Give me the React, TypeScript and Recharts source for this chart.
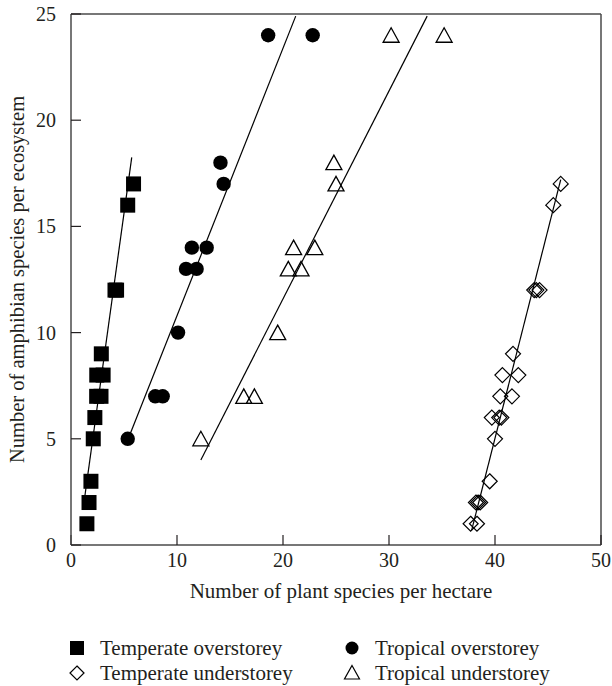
import React from 'react';
import { ScatterChart, Scatter, XAxis, YAxis, ReferenceLine, Label } from 'recharts';

// ---- data ----
const xTicks = [0, 10, 20, 30, 40, 50];
const yTicks = [0, 5, 10, 15, 20, 25];

const temperateOverstorey = [
  { x: 1.5, y: 1 }, { x: 1.7, y: 2 }, { x: 1.88, y: 3 }, { x: 2.1, y: 5 },
  { x: 2.25, y: 6 }, { x: 2.42, y: 7 }, { x: 2.83, y: 7 }, { x: 2.43, y: 8 },
  { x: 3.03, y: 8 }, { x: 2.86, y: 9 }, { x: 4.15, y: 12 }, { x: 4.3, y: 12 },
  { x: 5.35, y: 16 }, { x: 5.9, y: 17 },
];
const tropicalOverstorey = [
  { x: 5.35, y: 5 }, { x: 7.95, y: 7 }, { x: 8.65, y: 7 }, { x: 10.1, y: 10 },
  { x: 10.85, y: 13 }, { x: 11.85, y: 13 }, { x: 11.4, y: 14 }, { x: 12.8, y: 14 },
  { x: 14.4, y: 17 }, { x: 14.1, y: 18 }, { x: 18.6, y: 24 }, { x: 22.8, y: 24 },
];
const tropicalUnderstorey = [
  { x: 12.25, y: 5 }, { x: 16.3, y: 7 }, { x: 17.3, y: 7 }, { x: 19.5, y: 10 },
  { x: 20.5, y: 13 }, { x: 21.7, y: 13 }, { x: 21.0, y: 14 }, { x: 23.0, y: 14 },
  { x: 25.0, y: 17 }, { x: 24.8, y: 18 }, { x: 30.2, y: 24 }, { x: 35.2, y: 24 },
];
const temperateUnderstorey = [
  { x: 37.7, y: 1 }, { x: 38.3, y: 1 }, { x: 38.2, y: 2 }, { x: 38.4, y: 2 },
  { x: 38.6, y: 2 }, { x: 39.5, y: 3 }, { x: 40.0, y: 5 }, { x: 39.7, y: 6 },
  { x: 40.4, y: 6 }, { x: 40.6, y: 6 }, { x: 40.5, y: 7 }, { x: 41.6, y: 7 },
  { x: 40.7, y: 8 }, { x: 42.2, y: 8 }, { x: 41.7, y: 9 }, { x: 43.7, y: 12 },
  { x: 43.9, y: 12 }, { x: 44.2, y: 12 }, { x: 45.5, y: 16 }, { x: 46.2, y: 17 },
];

const fitTemperateOverstorey = [{ x: 1.32, y: 2.35 }, { x: 5.73, y: 18.25 }];
const fitTropicalOverstorey = [{ x: 5.4, y: 5 }, { x: 21.2, y: 24.9 }];
const fitTropicalUnderstorey = [{ x: 12.25, y: 4.0 }, { x: 33.6, y: 24.9 }];
const fitTemperateUnderstorey = [{ x: 37.8, y: 0.7 }, { x: 46.2, y: 17.2 }];

const legendLabels = [
  'Temperate overstorey',
  'Tropical overstorey',
  'Temperate understorey',
  'Tropical understorey',
];

const xTitle = 'Number of plant species per hectare';
const yTitle = 'Number of amphibian species per ecosystem';

// ---- styles ----
const FONT = '"Liberation Serif", "Times New Roman", serif';
const INK = '#231f20';
const FRAME = '#4a4a4a';

const SquareShape = (p: any) => (
  <rect x={p.cx - 7.5} y={p.cy - 7.5} width={15} height={15} fill="#000" />
);
const CircleShape = (p: any) => <circle cx={p.cx} cy={p.cy} r={7.2} fill="#000" />;
const TriangleShape = (p: any) => (
  <path
    d={`M${p.cx},${p.cy - 7.5} L${p.cx + 8},${p.cy + 7} L${p.cx - 8},${p.cy + 7} Z`}
    fill="none"
    stroke="#000"
    strokeWidth={1.3}
  />
);
const DiamondShape = (p: any) => (
  <path
    d={`M${p.cx},${p.cy - 7.5} L${p.cx + 7.5},${p.cy} L${p.cx},${p.cy + 7.5} L${p.cx - 7.5},${p.cy} Z`}
    fill="none"
    stroke="#000"
    strokeWidth={1.2}
  />
);

const XTitle = (props: any) => {
  const vb = props.viewBox;
  return (
    <text x={vb.x + vb.width / 2 + 5} y={vb.y + 53} textAnchor="middle" fontFamily={FONT} fontSize={21} fill={INK}>
      {xTitle}
    </text>
  );
};
const YTitle = (props: any) => {
  const vb = props.viewBox;
  const cx = 24;
  const cy = vb.y + vb.height / 2;
  return (
    <text x={cx} y={cy} transform={`rotate(-90, ${cx}, ${cy})`} textAnchor="middle" fontFamily={FONT} fontSize={20.5} fill={INK}>
      {yTitle}
    </text>
  );
};

const AxisTick = (props: any) => {
  const { x, y, payload, textAnchor, verticalAnchor } = props;
  const dy = verticalAnchor === 'start' ? 14 : 7;
  return (
    <text x={x} y={y + dy} textAnchor={textAnchor} fontFamily={FONT} fontSize={20} fill={INK}>
      {payload.value}
    </text>
  );
};

const fitLine = (seg: { x: number; y: number }[], key: string) => (
  <ReferenceLine key={key} segment={seg} stroke="#000" strokeWidth={1.2} ifOverflow="visible" />
);

export default function App() {
  return (
    <div style={{ position: 'absolute', left: 0, top: 0, width: 612, height: 686, background: '#fff', fontFamily: FONT }}>
      <ScatterChart width={612} height={686} margin={{ top: 14, right: 11, bottom: 0, left: 0 }} style={{ fontFamily: FONT }}>
        <XAxis
          type="number"
          dataKey="x"
          domain={[0, 50]}
          ticks={xTicks}
          height={141}
          tickSize={-10}
          tickMargin={18}
          stroke={FRAME}
          strokeWidth={1.5}
          tick={AxisTick}
          tickLine={{ stroke: INK, strokeWidth: 1.2 }}
          allowDataOverflow
        >
          <Label content={XTitle} />
        </XAxis>
        <YAxis
          type="number"
          dataKey="y"
          domain={[0, 25]}
          ticks={yTicks}
          width={71}
          tickSize={-10}
          tickMargin={25}
          stroke={FRAME}
          strokeWidth={1.5}
          tick={AxisTick}
          tickLine={{ stroke: INK, strokeWidth: 1.2 }}
          allowDataOverflow
        >
          <Label content={YTitle} />
        </YAxis>
        <ReferenceLine y={25} stroke={FRAME} strokeWidth={1.5} ifOverflow="visible" />
        <ReferenceLine x={50} stroke={FRAME} strokeWidth={1.5} ifOverflow="visible" />
        {fitLine(fitTemperateOverstorey, 'f1')}
        {fitLine(fitTropicalOverstorey, 'f2')}
        {fitLine(fitTropicalUnderstorey, 'f3')}
        {fitLine(fitTemperateUnderstorey, 'f4')}
        <Scatter name={legendLabels[0]} data={temperateOverstorey} shape={SquareShape} isAnimationActive={false} />
        <Scatter name={legendLabels[1]} data={tropicalOverstorey} shape={CircleShape} isAnimationActive={false} />
        <Scatter name={legendLabels[2]} data={temperateUnderstorey} shape={DiamondShape} isAnimationActive={false} />
        <Scatter name={legendLabels[3]} data={tropicalUnderstorey} shape={TriangleShape} isAnimationActive={false} />
      </ScatterChart>
      <svg width={612} height={686} style={{ position: 'absolute', left: 0, top: 0, pointerEvents: 'none' }}>
        <g fontFamily={FONT} fontSize={21} fill={INK}>
          <rect x={70} y={641} width={14} height={14} fill="#000" />
          <text x={100} y={655}>{legendLabels[0]}</text>
          <circle cx={352} cy={648} r={6.5} fill="#000" />
          <text x={375} y={655}>{legendLabels[1]}</text>
          <path d="M77,666 L84,673 L77,680 L70,673 Z" fill="none" stroke="#000" strokeWidth={1.2} />
          <text x={100} y={680}>{legendLabels[2]}</text>
          <path d="M352,665.5 L359.5,679 L344.5,679 Z" fill="none" stroke="#000" strokeWidth={1.2} />
          <text x={375} y={680}>{legendLabels[3]}</text>
        </g>
      </svg>
    </div>
  );
}
